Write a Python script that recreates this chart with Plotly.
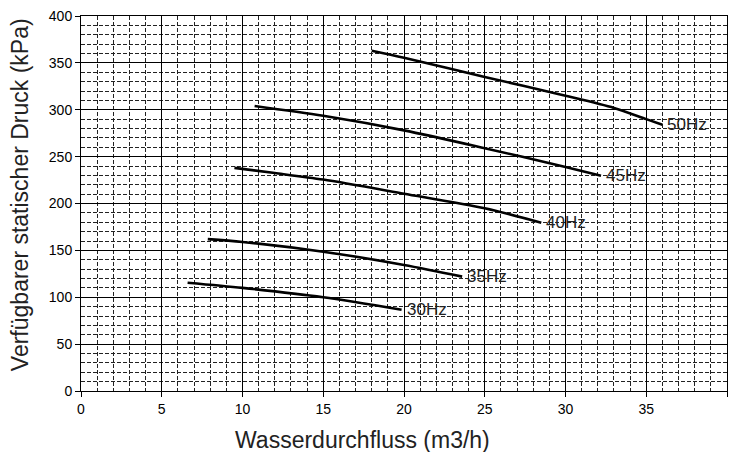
import plotly.graph_objects as go

# Pump curves: available static pressure vs. water flow per drive frequency
labels = ["50Hz", "45Hz", "40Hz", "35Hz", "30Hz"]

flow_50 = [18.0, 20.0, 25.0, 30.0, 33.0, 35.0, 36.0]
pres_50 = [363, 355.5, 335, 315, 302, 290, 284]

flow_45 = [10.75, 15.0, 20.0, 25.0, 30.0, 32.2]
pres_45 = [304, 293.5, 278, 259, 239, 229.7]

flow_40 = [9.5, 12.0, 15.0, 20.0, 25.0, 28.5]
pres_40 = [238, 232.5, 225.5, 210.5, 195, 179.5]

flow_35 = [7.85, 10.0, 15.0, 20.0, 23.6]
pres_35 = [162, 159, 148.6, 134.4, 122]

flow_30 = [6.6, 10.0, 15.0, 19.85]
pres_30 = [115.5, 110, 100, 86.7]

x_ticks = [0, 5, 10, 15, 20, 25, 30, 35, 40]
y_ticks = [0, 50, 100, 150, 200, 250, 300, 350, 400]

x_title = "Wasserdurchfluss (m3/h)"
y_title = "Verfügbarer statischer Druck (kPa)"

series = [
    (flow_50, pres_50),
    (flow_45, pres_45),
    (flow_40, pres_40),
    (flow_35, pres_35),
    (flow_30, pres_30),
]

FONT = "Arial, Liberation Sans, sans-serif"

fig = go.Figure()
for name, (xs, ys) in zip(labels, series):
    fig.add_trace(go.Scatter(
        x=xs, y=ys, mode="lines", name=name,
        line=dict(color="black", width=2.6, shape="spline", smoothing=0.8),
        showlegend=False, hoverinfo="x+y+name",
    ))
    fig.add_annotation(
        x=xs[-1], y=ys[-1], text=name, showarrow=False,
        xanchor="left", yanchor="middle", xshift=3,
        font=dict(family=FONT, size=17, color="#222"),
    )

# Axis titles placed as paper-relative annotations
fig.add_annotation(
    text=x_title, xref="paper", yref="paper", x=0.435, y=-0.131,
    xanchor="center", yanchor="middle", showarrow=False,
    font=dict(family=FONT, size=23, color="#222"),
)
fig.add_annotation(
    text=y_title, xref="paper", yref="paper", x=-0.094, y=0.523,
    xanchor="center", yanchor="middle", showarrow=False, textangle=-90,
    font=dict(family=FONT, size=23, color="#222"),
)

axis_common = dict(
    showline=True, linecolor="black", linewidth=1, mirror=True,
    ticks="outside", ticklen=5, tickcolor="black",
    showgrid=True, gridcolor="black", gridwidth=1,
    zeroline=False,
    tickfont=dict(family=FONT, size=14, color="black"),
)

fig.update_xaxes(
    range=[0, 40], tickvals=x_ticks,
    minor=dict(dtick=1, showgrid=True, gridcolor="#222", griddash="4px,2px", gridwidth=1),
    **axis_common,
)
fig.update_yaxes(
    range=[0, 400], tickvals=y_ticks,
    minor=dict(dtick=10, showgrid=True, gridcolor="#222", griddash="4px,2px", gridwidth=1),
    **axis_common,
)

fig.update_layout(
    width=734, height=452,
    margin=dict(l=81, r=7, t=16, b=61),
    paper_bgcolor="white", plot_bgcolor="white",
    font=dict(family=FONT),
)

fig.write_html("out.html")
